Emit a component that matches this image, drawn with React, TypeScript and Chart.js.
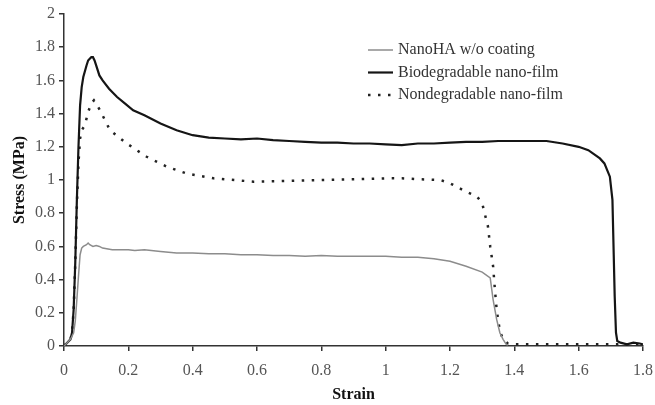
import React, { useEffect, useRef } from "react";
import { Chart, registerables } from "chart.js";

Chart.register(...registerables);

// ---- Data ----
const seriesLabels = ["NanoHA w/o coating", "Biodegradable nano-film", "Nondegradable nano-film"];

const nanoStrain = [0, 0.01, 0.02, 0.03, 0.035, 0.04, 0.045, 0.05, 0.055, 0.06, 0.07, 0.075, 0.08, 0.09, 0.1, 0.11, 0.12, 0.15, 0.2, 0.22, 0.25, 0.3, 0.35, 0.4, 0.45, 0.5, 0.55, 0.6, 0.65, 0.7, 0.75, 0.8, 0.85, 0.9, 0.95, 1.0, 1.05, 1.1, 1.15, 1.2, 1.25, 1.3, 1.325, 1.334, 1.345, 1.355, 1.365, 1.375, 1.38];
const nanoStress = [0, 0.02, 0.04, 0.08, 0.15, 0.28, 0.42, 0.55, 0.59, 0.6, 0.61, 0.62, 0.61, 0.6, 0.605, 0.6, 0.59, 0.58, 0.58, 0.575, 0.58, 0.57, 0.56, 0.56, 0.555, 0.555, 0.55, 0.55, 0.545, 0.545, 0.54, 0.545, 0.54, 0.54, 0.54, 0.54, 0.535, 0.535, 0.525, 0.51, 0.48, 0.445, 0.41, 0.28, 0.16, 0.08, 0.04, 0.01, 0.005];

const bioStrain = [0, 0.01, 0.02, 0.025, 0.03, 0.035, 0.04, 0.045, 0.05, 0.055, 0.06, 0.07, 0.075, 0.08, 0.085, 0.09, 0.095, 0.1, 0.11, 0.12, 0.14, 0.165, 0.19, 0.215, 0.25, 0.3, 0.35, 0.4, 0.45, 0.5, 0.55, 0.6, 0.65, 0.7, 0.75, 0.8, 0.85, 0.9, 0.95, 1.0, 1.05, 1.1, 1.15, 1.2, 1.25, 1.3, 1.35, 1.4, 1.45, 1.5, 1.55, 1.6, 1.63, 1.666, 1.68, 1.697, 1.705, 1.709, 1.712, 1.716, 1.72, 1.73, 1.75, 1.77, 1.79, 1.8];
const bioStress = [0, 0.02, 0.04, 0.08, 0.22, 0.5, 0.88, 1.2, 1.45, 1.56, 1.62, 1.69, 1.72, 1.73, 1.74, 1.74, 1.72, 1.69, 1.63, 1.6, 1.55, 1.5, 1.46, 1.42, 1.39, 1.34, 1.3, 1.27, 1.255, 1.25, 1.245, 1.25, 1.24, 1.235, 1.23, 1.225, 1.225, 1.22, 1.22, 1.215, 1.21, 1.22, 1.22, 1.225, 1.23, 1.23, 1.235, 1.235, 1.235, 1.235, 1.22, 1.2, 1.18, 1.13, 1.1, 1.02, 0.88, 0.55, 0.3, 0.08, 0.03, 0.02, 0.01, 0.02, 0.015, 0.01];

const nonStrain = [0, 0.01, 0.02, 0.025, 0.03, 0.035, 0.04, 0.045, 0.05, 0.055, 0.065, 0.075, 0.085, 0.093, 0.1, 0.112, 0.143, 0.195, 0.257, 0.32, 0.38, 0.465, 0.59, 0.7, 0.8, 0.9, 1.0, 1.05, 1.1, 1.17, 1.2, 1.25, 1.284, 1.3, 1.318, 1.325, 1.334, 1.34, 1.345, 1.355, 1.365, 1.38, 1.4, 1.5, 1.6, 1.7, 1.8];
const nonStress = [0, 0.02, 0.04, 0.08, 0.22, 0.5, 0.85, 1.1, 1.25, 1.3, 1.33, 1.41, 1.46, 1.48, 1.46, 1.42, 1.3, 1.22, 1.14, 1.08, 1.04, 1.01, 0.99, 0.995, 1.0, 1.005, 1.01, 1.01, 1.005, 1.0, 0.98, 0.93, 0.9, 0.86, 0.72, 0.6, 0.48, 0.33, 0.22, 0.09, 0.04, 0.015, 0.01, 0.01, 0.01, 0.01, 0.01];

const xMin = 0, xMax = 1.8, xStep = 0.2;
const yMin = 0, yMax = 2, yStep = 0.2;

const toPoints = (xs: number[], ys: number[]) => xs.map((x, i) => ({ x, y: ys[i] }));

const SERIF = "'Liberation Serif', 'Times New Roman', serif";

const legendPlugin = {
  id: "customLegend",
  afterDraw(chart: any) {
    const ctx = chart.ctx;
    ctx.save();
    chart.data.datasets.forEach((ds: any, i: number) => {
      const y = 50 + i * 22.5;
      ctx.strokeStyle = ds.borderColor;
      ctx.lineWidth = ds.borderWidth;
      ctx.setLineDash(ds.borderDash || []);
      ctx.lineCap = "butt";
      ctx.beginPath();
      ctx.moveTo(368, y);
      ctx.lineTo(393, y);
      ctx.stroke();
      ctx.setLineDash([]);
      ctx.fillStyle = "#333";
      ctx.font = `16px ${SERIF}`;
      ctx.textBaseline = "middle";
      ctx.textAlign = "left";
      ctx.fillText(ds.label, 398, y);
    });
    ctx.restore();
  },
};

const fmt = (v: any) => String(Number(Number(v).toFixed(1)));

export default function App() {
  const ref = useRef<HTMLCanvasElement>(null);
  useEffect(() => {
    if (!ref.current) return;
    const chart = new Chart(ref.current, {
      type: "line",
      data: {
        datasets: [
          {
            label: seriesLabels[0],
            data: toPoints(nanoStrain, nanoStress),
            borderColor: "#8c8c8c",
            borderWidth: 1.5,
            pointRadius: 0,
            tension: 0,
          },
          {
            label: seriesLabels[1],
            data: toPoints(bioStrain, bioStress),
            borderColor: "#151515",
            borderWidth: 2.2,
            pointRadius: 0,
            tension: 0,
          },
          {
            label: seriesLabels[2],
            data: toPoints(nonStrain, nonStress),
            borderColor: "#222",
            borderWidth: 2.5,
            borderDash: [2.5, 7.5],
            pointRadius: 0,
            tension: 0,
          },
        ],
      },
      options: {
        responsive: false,
        animation: false,
        devicePixelRatio: 1,
        layout: { padding: { top: 14, right: 12, left: 0, bottom: 0 } },
        plugins: { legend: { display: false }, tooltip: { enabled: false } },
        scales: {
          x: {
            type: "linear",
            min: xMin,
            max: xMax,
            ticks: {
              stepSize: xStep,
              color: "#555",
              font: { family: SERIF, size: 16 },
              padding: 10,
              maxRotation: 0,
              callback: fmt,
            },
            grid: { drawOnChartArea: false, tickLength: 5, color: "#333", lineWidth: 1.5 },
            border: { display: true, color: "#333", width: 1.5 },
            title: {
              display: true,
              text: "Strain",
              color: "#111",
              font: { family: SERIF, size: 16, weight: "bold" },
              padding: { top: 0, bottom: 1 },
            },
            afterFit(s: any) {
              s.height = 59;
              s.paddingLeft = 0;
              s.paddingRight = 0;
            },
          },
          y: {
            type: "linear",
            min: yMin,
            max: yMax,
            ticks: {
              stepSize: yStep,
              color: "#555",
              font: { family: SERIF, size: 16 },
              padding: 4,
              callback: fmt,
            },
            grid: { drawOnChartArea: false, tickLength: 5, color: "#333", lineWidth: 1.5 },
            border: { display: true, color: "#333", width: 1.5 },
            title: {
              display: true,
              text: "Stress (MPa)",
              color: "#111",
              font: { family: SERIF, size: 16, weight: "bold" },
              padding: { top: 10, bottom: 0 },
            },
            afterFit(s: any) {
              s.width = 64;
              s.paddingTop = 0;
              s.paddingBottom = 0;
            },
          },
        },
      },
      plugins: [legendPlugin],
    } as any);
    return () => chart.destroy();
  }, []);
  return (
    <div style={{ position: "absolute", left: 0, top: 0, width: 655, height: 405, background: "#fff" }}>
      <canvas ref={ref} width={655} height={405} style={{ display: "block" }} />
    </div>
  );
}
